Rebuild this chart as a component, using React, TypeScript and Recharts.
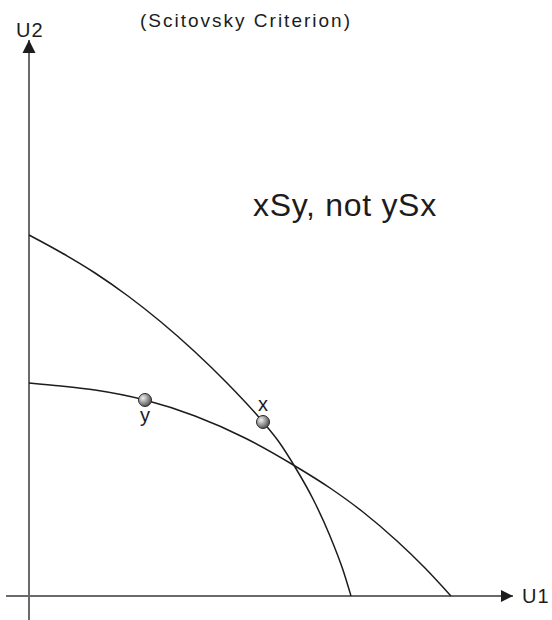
import { ComposedChart, Line, Scatter, XAxis, YAxis, ReferenceLine, ReferenceDot } from 'recharts';

// Curve readings (U1, U2) — one unit is roughly 10px in the original figure
const steepU1 = [0, 3.3, 6.6, 9.9, 13.2, 16.5, 19.8, 23.4, 25.0, 26.6, 28.4, 30.1, 31.4, 32.2];
const steepU2 = [36.1, 34.3, 32.3, 30.0, 27.4, 24.5, 21.3, 17.4, 15.4, 12.9, 9.7, 6.0, 2.6, 0];

const flatU1 = [0, 3.2, 6.6, 11.6, 16.6, 21.6, 26.6, 30.1, 33.4, 36.8, 39.6, 42.2];
const flatU2 = [21.3, 21.0, 20.6, 19.6, 18.0, 15.8, 13.0, 10.8, 8.4, 5.5, 2.8, 0];

// Allocation points
const pointNames = ['y', 'x'];
const pointU1 = [11.6, 23.4];
const pointU2 = [19.6, 17.4];

const steepData = steepU1.map((u1, i) => ({ u1, u2: steepU2[i] }));
const flatData = flatU1.map((u1, i) => ({ u1, u2: flatU2[i] }));
const pointData = pointNames.map((name, i) => ({ name, u1: pointU1[i], u2: pointU2[i] }));

const FONT = '"Liberation Sans", Arial, Helvetica, sans-serif';
const AXIS_COLOR = '#6a6a6a';
const INK = '#1c1c1c';

// Shaded ball marker with its letter label
const Ball = (props: any) => {
  const { cx, cy, payload } = props;
  const above = payload.name === 'x';
  return (
    <g>
      <circle cx={cx} cy={cy} r={6.5} fill="url(#ballGrad)" stroke="#2a2a2a" strokeWidth={1} />
      <text
        x={cx}
        y={above ? cy - 11 : cy + 22}
        textAnchor="middle"
        fontFamily={FONT}
        fontSize={20}
        fill={INK}
      >
        {payload.name}
      </text>
    </g>
  );
};

const textShape = (txt: string, size: number, spacing = 0) => (p: any) => (
  <text x={p.cx} y={p.cy} fontFamily={FONT} fontSize={size} letterSpacing={spacing} fill={INK}>
    {txt}
  </text>
);

const upArrow = (p: any) => (
  <polygon points={`${p.cx},${p.cy} ${p.cx - 6.5},${p.cy + 13} ${p.cx + 6.5},${p.cy + 13}`} fill={INK} />
);

const rightArrow = (p: any) => (
  <polygon points={`${p.cx},${p.cy} ${p.cx - 12},${p.cy - 6} ${p.cx - 12},${p.cy + 6}`} fill={INK} />
);

export default function App() {
  return (
    <div style={{ position: 'absolute', left: 0, top: 0, width: 552, height: 620, background: '#fff' }}>
      <ComposedChart width={552} height={620} margin={{ top: 40, right: 39, bottom: 0, left: 6 }}>
        <defs>
          <radialGradient id="ballGrad" cx="35%" cy="35%" r="70%">
            <stop offset="0%" stopColor="#f0f0f0" />
            <stop offset="100%" stopColor="#4a4a4a" />
          </radialGradient>
        </defs>
        <XAxis type="number" dataKey="u1" domain={[-2.3, 48.4]} allowDataOverflow hide />
        <YAxis type="number" dataKey="u2" domain={[-2.4, 55.6]} allowDataOverflow hide />

        <ReferenceLine x={0} stroke={AXIS_COLOR} strokeWidth={2} />
        <ReferenceLine y={0} stroke={AXIS_COLOR} strokeWidth={2} />
        <ReferenceDot x={0} y={55.6} shape={upArrow} />
        <ReferenceDot x={48.4} y={0} shape={rightArrow} />

        <Line
          data={steepData}
          dataKey="u2"
          type="monotone"
          stroke={INK}
          strokeWidth={1.5}
          dot={false}
          isAnimationActive={false}
        />
        <Line
          data={flatData}
          dataKey="u2"
          type="monotone"
          stroke={INK}
          strokeWidth={1.5}
          dot={false}
          isAnimationActive={false}
        />
        <Scatter data={pointData} dataKey="u2" shape={Ball} isAnimationActive={false} />

        <ReferenceDot x={11.1} y={56.9} ifOverflow="visible" shape={textShape('(Scitovsky Criterion)', 19, 2)} />
        <ReferenceDot x={-1.3} y={55.9} ifOverflow="visible" shape={textShape('U2', 20, 1)} />
        <ReferenceDot x={49.3} y={-0.7} ifOverflow="visible" shape={textShape('U1', 20, 1)} />
        <ReferenceDot x={22.4} y={38.0} shape={textShape('xSy, not ySx', 32, 0.7)} />
      </ComposedChart>
    </div>
  );
}
